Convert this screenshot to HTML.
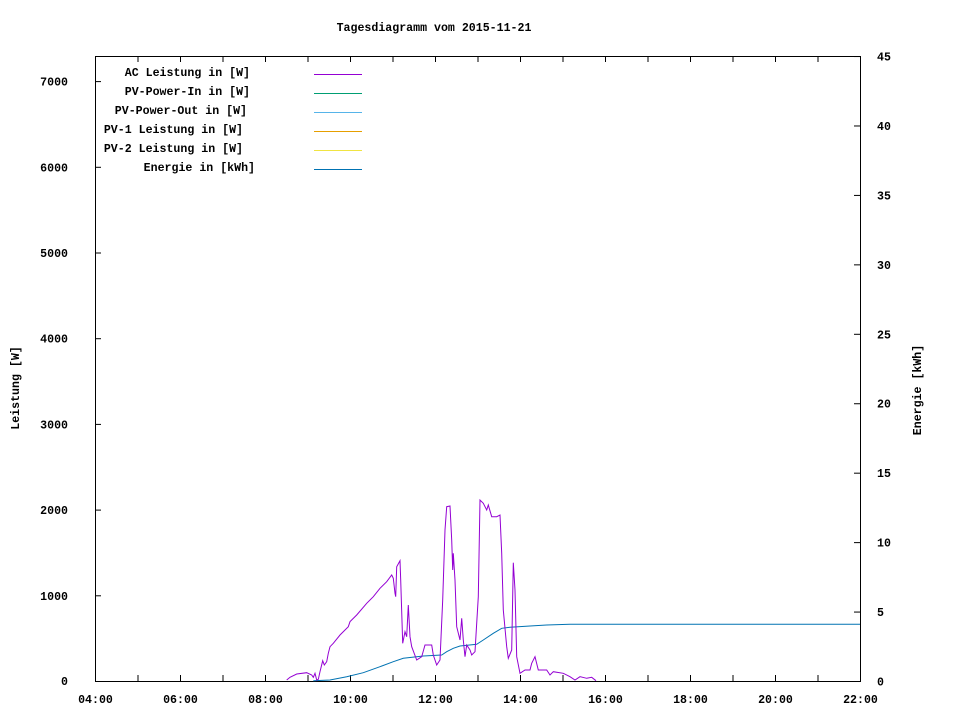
<!DOCTYPE html>
<html><head><style>
body{margin:0;background:#fff}
svg text{font-family:"Liberation Mono",monospace;font-size:11.6px;font-weight:bold;fill:#000}
</style></head><body>
<svg id="s" width="960" height="720" xmlns="http://www.w3.org/2000/svg">
<rect x="0" y="0" width="960" height="720" fill="#fff"/>
<text x="434" y="31" text-anchor="middle">Tagesdiagramm vom 2015-11-21</text>
<rect x="95.5" y="56.5" width="765" height="625" fill="none" stroke="#000" stroke-width="1"/>
<g id="ticks" stroke="#000" stroke-width="1"></g>
<g id="labels"></g>
<text transform="translate(19,388) rotate(-90)" text-anchor="middle">Leistung [W]</text>
<text transform="translate(921,390) rotate(-90)" text-anchor="middle">Energie [kWh]</text>
<g>
<text x="250" y="76" text-anchor="end">AC Leistung in [W]</text>
<text x="250" y="95" text-anchor="end">PV-Power-In in [W]</text>
<text x="247" y="114" text-anchor="end">PV-Power-Out in [W]</text>
<text x="243" y="133" text-anchor="end">PV-1 Leistung in [W]</text>
<text x="243" y="152" text-anchor="end">PV-2 Leistung in [W]</text>
<text x="255" y="171" text-anchor="end">Energie in [kWh]</text>
<line x1="314" y1="74.5" x2="362" y2="74.5" stroke="#9400d3"/>
<line x1="314" y1="93.5" x2="362" y2="93.5" stroke="#009e73"/>
<line x1="314" y1="112.5" x2="362" y2="112.5" stroke="#56b4e9"/>
<line x1="314" y1="131.5" x2="362" y2="131.5" stroke="#e69f00"/>
<line x1="314" y1="150.5" x2="362" y2="150.5" stroke="#f0e442"/>
<line x1="314" y1="169.5" x2="362" y2="169.5" stroke="#0072b2"/>
</g>
<polyline id="en" fill="none" stroke="#0072b2" stroke-width="1"/>
<polyline id="ac" fill="none" stroke="#9400d3" stroke-width="1"/>
</svg>
<script>
var ns="http://www.w3.org/2000/svg";
var T=document.getElementById('ticks'),L=document.getElementById('labels');
function ln(a,b,c,d){var e=document.createElementNS(ns,'line');e.setAttribute('x1',a);e.setAttribute('y1',b);e.setAttribute('x2',c);e.setAttribute('y2',d);T.appendChild(e);}
function tx(x,y,s,anc){var e=document.createElementNS(ns,'text');e.setAttribute('x',x);e.setAttribute('y',y);e.setAttribute('text-anchor',anc);e.textContent=s;L.appendChild(e);}
for(var i=0;i<=7;i++){var y=681.5-i*85.7;ln(95,y,101,y);if(i>0)tx(68,y+4,String(i*1000),'end');}
tx(68,685,'0','end');
for(var i=0;i<=9;i++){var y=681.5-i*69.44;ln(854,y,860,y);tx(877,y+4,String(i*5),'start');}
for(var h=0;h<=18;h++){var x=95.5+h*42.5;ln(x,681,x,675);ln(x,56,x,62);if(h%2==0){var hh=4+h;tx(x,703,(hh<10?'0':'')+hh+':00','middle');}}
var ac=[20,570,30,562,50,552,80,548,95,555,100,562,105,550,110,570,115,568,120,545,128,512,133,525,140,515,145,490,150,470,160,460,180,435,205,410,210,395,230,375,260,340,280,320,300,295,320,275,335,255,340,265,345,310,347,320,350,230,360,212,362,270,368,460,375,425,380,440,385,345,390,440,395,470,410,510,425,500,435,465,455,465,460,495,470,525,480,510,488,330,495,120,500,50,510,48,515,150,518,240,520,190,525,270,530,410,540,450,545,385,550,450,555,500,560,465,570,480,575,495,585,485,595,320,600,30,610,40,620,60,625,45,635,80,650,80,660,75,665,190,670,360,680,470,685,505,695,480,700,218,705,300,710,500,720,550,735,540,750,540,755,520,765,500,775,540,800,540,810,555,820,545,850,550,870,560,885,570,900,560,920,565,935,562,948,572];
var en=[100,572,150,570,200,560,250,548,300,530,340,515,370,505,430,498,485,495,500,485,520,475,540,468,590,463,610,450,640,430,665,415,690,412,750,408,800,405,870,403,990,403,1740,403];
function conv(a){var s=[];for(var i=0;i<a.length;i+=2)s.push((280+a[i]/3).toFixed(1)+','+(490+a[i+1]/3).toFixed(1));return s.join(' ');}
document.getElementById('ac').setAttribute('points',conv(ac));
document.getElementById('en').setAttribute('points',conv(en));
</script>
</body></html>
